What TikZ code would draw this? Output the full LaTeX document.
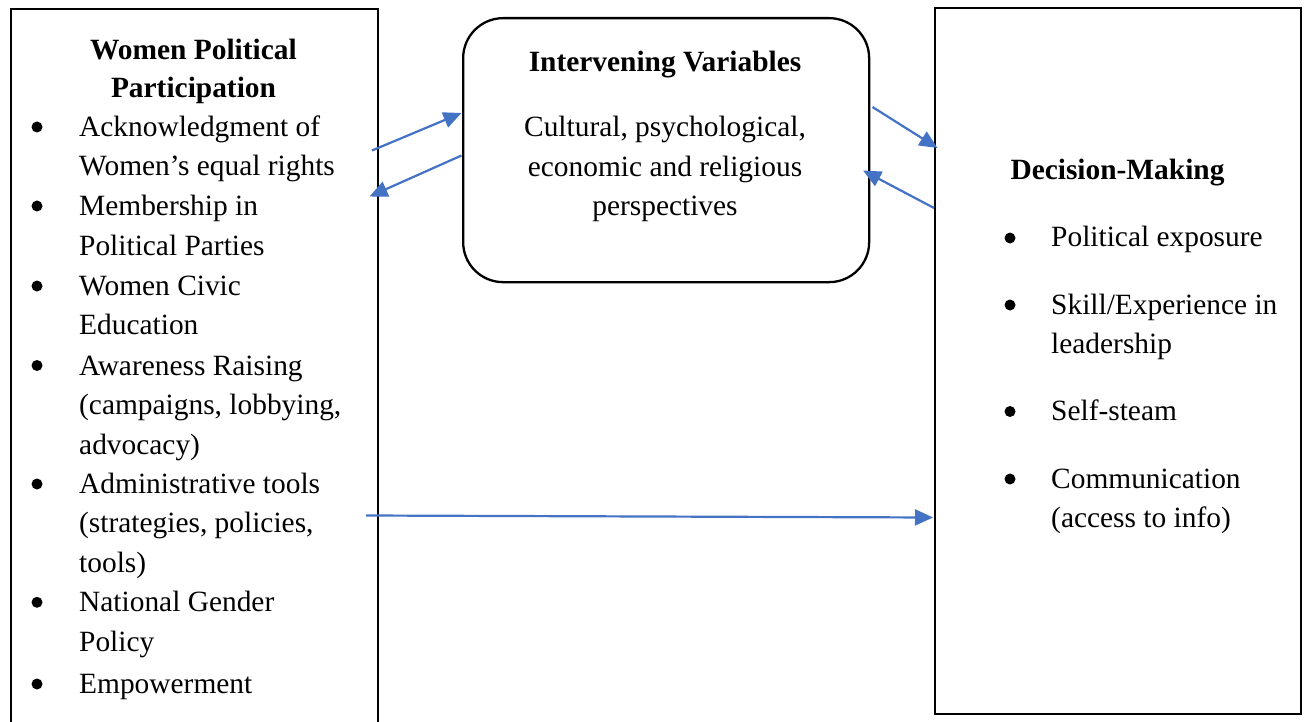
\documentclass[tikz,border=0pt]{standalone}
\usepackage{fontspec}
\setmainfont{Liberation Serif}
\usetikzlibrary{arrows.meta}
\definecolor{linkblue}{RGB}{68,114,196}
\begin{document}
\begin{tikzpicture}[x=1pt,y=-1pt,
  frame/.style={draw=black, line width=2.3pt, inner sep=0pt, anchor=north west},
  line/.style={anchor=base west, inner sep=0pt, font=\fontsize{29.4}{35}\selectfont},
  ctext/.style={anchor=base, inner sep=0pt, font=\fontsize{29.4}{35}\selectfont},
  title/.style={anchor=base, inner sep=0pt, font=\fontsize{29.4}{35}\selectfont\bfseries},
  dot/.style={circle, fill=black, inner sep=0pt, minimum size=11pt},
  link/.style={draw=linkblue, line width=2.2pt, -{Triangle[length=18pt,width=16pt]}}]
\useasboundingbox (0,0) rectangle (1306,722);

% frames
\node[frame, minimum width=367pt, minimum height=745pt] (wpp) at (10,8) {};
\node[frame, rounded corners=40pt, minimum width=406pt, minimum height=264pt] (iv) at (462,17) {};
\node[frame, minimum width=366pt, minimum height=706pt] (dm) at (934,7) {};

% left column
\node[title] (wppt1) at (193.5,59.5) {Women Political};
\node[title] (wppt2) at (193.5,97.5) {Participation};
\foreach \b/\t [count=\i] in {
  136.5/Acknowledgment of,
  175.8/Women’s equal rights,
  215.5/Membership in,
  255/Political Parties,
  295.5/Women Civic,
  334.8/Education,
  375/Awareness Raising,
  414.5/{(campaigns, lobbying,},
  454/advocacy),
  493.5/Administrative tools,
  532.8/{(strategies, policies,},
  572/tools),
  611.8/National Gender,
  651.3/Policy,
  693.5/Empowerment}
  \node[line] (wl\i) at (79,\b) {\t};
\foreach \b [count=\i] in {136.5,215.5,295.5,375,493.5,611.8,693.5}
  \node[dot] (wb\i) at (37,\b-9.5) {};

% middle box
\node[title] (ivt) at (665,71.7) {Intervening Variables};
\node[ctext] (iv1) at (665,137) {Cultural, psychological,};
\node[ctext] (iv2) at (665,176.3) {economic and religious};
\node[ctext] (iv3) at (665,215.5) {perspectives};

% right column
\node[title] (dmt) at (1117.5,180) {Decision-Making};
\foreach \b/\t [count=\i] in {
  247/Political exposure,
  314/{Skill/Experience in},
  353.5/leadership,
  420.5/Self-steam,
  488/Communication,
  527.5/(access to info)}
  \node[line] (dl\i) at (1051,\b) {\t};
\foreach \b [count=\i] in {247,314,420.5,488}
  \node[dot] (db\i) at (1010,\b-9) {};

% connectors
\coordinate (a1s) at (372,150.5);  \coordinate (a1e) at (461.5,113);
\coordinate (a2s) at (461.5,155.5); \coordinate (a2e) at (369.5,196.5);
\coordinate (a3s) at (872.5,107);  \coordinate (a3e) at (937.5,148);
\coordinate (a4s) at (934,208);    \coordinate (a4e) at (863,170.5);
\coordinate (a5s) at (366,515.5);  \coordinate (a5e) at (933,517.5);
\draw[link] (a1s) -- (a1e);
\draw[link] (a2s) -- (a2e);
\draw[link] (a3s) -- (a3e);
\draw[link] (a4s) -- (a4e);
\draw[link] (a5s) -- (a5e);
\end{tikzpicture}
\end{document}
